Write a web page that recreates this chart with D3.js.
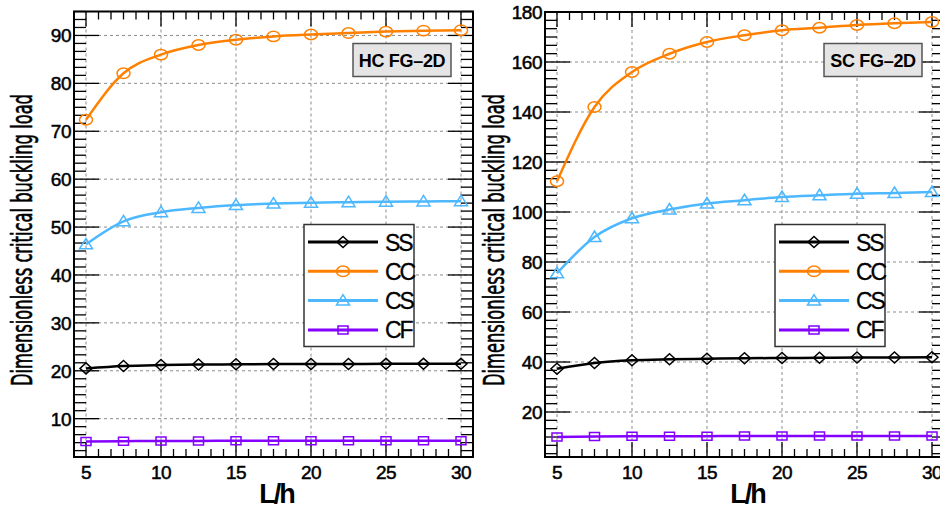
<!DOCTYPE html>
<html><head><meta charset="utf-8">
<script src="https://cdn.jsdelivr.net/npm/d3@7"></script>
<style>body{margin:0;background:#fff}svg{display:block}</style>
</head><body><svg id="c" width="940" height="508"></svg>
<script>
// ---- data ----
const lh = [5, 7.5, 10, 12.5, 15, 17.5, 20, 22.5, 25, 27.5, 30];
const seriesNames = ["SS", "CC", "CS", "CF"];
const seriesColors = ["#000000", "#ff8000", "#4db8ff", "#8400ff"];
const seriesMarkers = ["diamond", "circle", "triangle", "square"];

const hcSS = [20.5, 21.0, 21.2, 21.3, 21.35, 21.4, 21.4, 21.42, 21.45, 21.45, 21.45];
const hcCC = [72.4, 82.1, 86.0, 88.0, 89.1, 89.8, 90.2, 90.5, 90.8, 91.0, 91.1];
const hcCS = [46.4, 51.2, 53.1, 54.0, 54.6, 54.9, 55.1, 55.2, 55.3, 55.35, 55.4];
const hcCF = [5.25, 5.3, 5.35, 5.35, 5.4, 5.4, 5.4, 5.4, 5.4, 5.4, 5.4];

const scSS = [37.3, 39.6, 40.7, 41.1, 41.3, 41.5, 41.6, 41.7, 41.8, 41.8, 41.9];
const scCC = [112.3, 142.0, 156.0, 163.3, 168.0, 170.7, 172.7, 173.7, 174.8, 175.5, 176.0];
const scCS = [75.5, 90.0, 97.5, 101.0, 103.4, 104.7, 106.0, 106.7, 107.3, 107.6, 108.0];
const scCF = [10.0, 10.2, 10.3, 10.3, 10.35, 10.4, 10.4, 10.4, 10.4, 10.4, 10.4];

const xTicks = [5, 10, 15, 20, 25, 30];
const hcYTicks = [10, 20, 30, 40, 50, 60, 70, 80, 90];
const scYTicks = [20, 40, 60, 80, 100, 120, 140, 160, 180];

const titles = ["HC FG\u20132D", "SC FG\u20132D"];
const xLabel = "L/h";
const yLabel = "Dimensionless critical buckling load";

// ---- drawing ----
const svg = d3.select("#c");

function markerPath(type) {
  if (type === "diamond") return "M0,-5.5L6,0L0,5.5L-6,0Z";
  if (type === "triangle") return "M0,-6L6.5,4.5L-6.5,4.5Z";
  if (type === "square") return "M-5,-4L5,-4L5,4L-5,4Z";
  return null;
}
function drawMarker(g, type, x, y, color) {
  if (type === "circle") {
    g.append("ellipse").attr("cx", x).attr("cy", y).attr("rx", 6.5).attr("ry", 5.2)
      .attr("fill", "none").attr("stroke", color).attr("stroke-width", 1.5);
  } else {
    g.append("path").attr("d", markerPath(type)).attr("transform", `translate(${x},${y})`)
      .attr("fill", "none").attr("stroke", color).attr("stroke-width", 1.5);
  }
}

function panel(o) {
  const g = svg.append("g");
  const x = d3.scaleLinear().domain([4.2, 30.8]).range([o.left, o.left + 399]);
  const y = d3.scaleLinear().domain(o.yDomain).range([o.bottom, o.top]);
  const L = o.left, R = o.left + 399, T = o.top, B = o.bottom;

  // grid
  g.selectAll(".gx").data(xTicks).join("line")
    .attr("x1", d => x(d)).attr("x2", d => x(d)).attr("y1", T).attr("y2", B)
    .attr("stroke", "#8c8c8c").attr("stroke-width", 1).attr("stroke-dasharray", "3,3");
  g.selectAll(".gy").data(o.yTicks.filter(d => d < o.yDomain[1] - 0.5)).join("line")
    .attr("x1", L).attr("x2", R).attr("y1", d => y(d)).attr("y2", d => y(d))
    .attr("stroke", "#8c8c8c").attr("stroke-width", 1).attr("stroke-dasharray", "3,3");

  // minor/major ticks
  const yStep = o.yTicks[1] - o.yTicks[0];
  const yMinor = [];
  for (let k = Math.ceil(o.yDomain[0] / (yStep / 6)); k * yStep / 6 <= o.yDomain[1] + 1e-9; k++) yMinor.push(k * yStep / 6);
  const xMinor = [];
  for (let k = -2; k <= 40; k++) { const v = 5 + k * 5 / 6; if (v >= 4.2 && v <= 30.8) xMinor.push(v); }
  const tk = g.append("g").attr("stroke", "#000").attr("stroke-width", 1.3);
  yMinor.forEach(v => {
    const major = Math.abs(v / yStep - Math.round(v / yStep)) < 1e-6;
    const len = major ? 25 : 12;
    tk.append("line").attr("x1", L).attr("x2", L + len).attr("y1", y(v)).attr("y2", y(v));
    tk.append("line").attr("x1", R).attr("x2", R - len).attr("y1", y(v)).attr("y2", y(v));
  });
  xMinor.forEach(v => {
    const major = Math.abs((v - 5) / 5 - Math.round((v - 5) / 5)) < 1e-6;
    const len = major ? 15 : 8;
    tk.append("line").attr("x1", x(v)).attr("x2", x(v)).attr("y1", B).attr("y2", B - len);
    tk.append("line").attr("x1", x(v)).attr("x2", x(v)).attr("y1", T).attr("y2", T + len);
  });

  // frame
  g.append("rect").attr("x", L).attr("y", T).attr("width", R - L).attr("height", B - T)
    .attr("fill", "none").attr("stroke", "#000").attr("stroke-width", 2);

  // tick labels
  g.selectAll(".yl").data(o.yTicks).join("text")
    .attr("x", L - 3).attr("y", d => y(d)).attr("dy", "0.36em").attr("text-anchor", "end")
    .attr("font-family", "Liberation Sans, Arial, sans-serif").attr("font-size", 19)
    .attr("stroke", "#000").attr("stroke-width", 0.5).attr("letter-spacing", -0.5)
    .text(d => d);
  g.selectAll(".xl").data(xTicks).join("text")
    .attr("x", d => x(d)).attr("y", 479).attr("text-anchor", "middle")
    .attr("font-family", "Liberation Sans, Arial, sans-serif").attr("font-size", 19)
    .attr("stroke", "#000").attr("stroke-width", 0.5).attr("letter-spacing", -0.5)
    .text(d => d);

  // axis titles
  g.append("text").attr("x", (L + R) / 2 + 3).attr("y", 503).attr("text-anchor", "middle")
    .attr("font-family", "Liberation Sans, Arial, sans-serif").attr("font-weight", "bold")
    .attr("font-size", 27).attr("letter-spacing", -2).text(xLabel);
  const yt = g.append("text")
    .attr("text-anchor", "middle")
    .attr("font-family", "Liberation Sans Narrow, DejaVu Sans Condensed, sans-serif")
    .attr("font-size", 28).attr("stroke", "#000").attr("stroke-width", 0.6)
    .text(yLabel);
  const natural = yt.node().getComputedTextLength() || 292;
  const sc = Math.min(1, 292 / natural);
  yt.attr("transform", `translate(${o.yLabelX},240) rotate(-90) scale(${sc},1)`);

  // series
  const line = d3.line().x((d, i) => x(lh[i])).y(d => y(d)).curve(d3.curveMonotoneX);
  o.series.forEach((s, si) => {
    g.append("path").attr("d", line(s)).attr("fill", "none")
      .attr("stroke", seriesColors[si]).attr("stroke-width", 2.5);
  });
  o.series.forEach((s, si) => {
    s.forEach((v, i) => drawMarker(g, seriesMarkers[si], x(lh[i]), y(v), seriesColors[si]));
  });

  // title box
  g.append("rect").attr("x", L + 279).attr("y", 43.5).attr("width", 98).attr("height", 33)
    .attr("fill", "#e5e5e5").attr("stroke", "#555").attr("stroke-width", 1.5);
  g.append("text").attr("x", L + 279 + 49).attr("y", 66.5).attr("text-anchor", "middle")
    .attr("font-family", "Liberation Sans, Arial, sans-serif").attr("font-weight", "bold")
    .attr("font-size", 18).attr("letter-spacing", -0.3).text(o.title);

  // legend
  const lg = g.append("g").attr("transform", `translate(${L + 230},224.5)`);
  lg.append("rect").attr("width", 110).attr("height", 122).attr("fill", "#fff")
    .attr("stroke", "#333").attr("stroke-width", 1.5);
  seriesNames.forEach((n, i) => {
    const yy = 17.5 + i * 29.3;
    lg.append("line").attr("x1", 4).attr("x2", 74).attr("y1", yy).attr("y2", yy)
      .attr("stroke", seriesColors[i]).attr("stroke-width", 3);
    drawMarker(lg, seriesMarkers[i], 39, yy, seriesColors[i]);
    lg.append("text").attr("x", 81).attr("y", yy + 8.5)
      .attr("font-family", "Liberation Sans, Arial, sans-serif").attr("font-size", 23)
      .attr("stroke", "#000").attr("stroke-width", 0.3)
      .attr("letter-spacing", -2).text(n);
  });
}

panel({ left: 74, top: 11.5, bottom: 457, yDomain: [2, 95], yTicks: hcYTicks,
  series: [hcSS, hcCC, hcCS, hcCF], title: titles[0], yLabelX: 32 });
panel({ left: 545, top: 12, bottom: 457, yDomain: [2, 180], yTicks: scYTicks,
  series: [scSS, scCC, scCS, scCF], title: titles[1], yLabelX: 504 });
</script>
</body></html>
